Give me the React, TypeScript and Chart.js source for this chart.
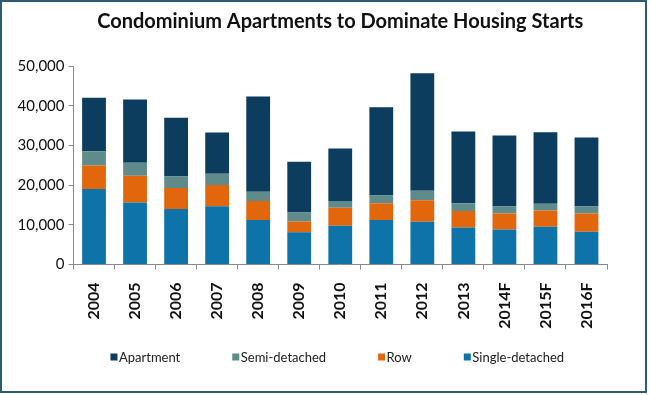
import React, { useEffect, useRef } from "react";
import { Chart, registerables } from "chart.js";

Chart.register(...registerables);

const TITLE = "Condominium Apartments to Dominate Housing Starts";
const YEARS = ["2004", "2005", "2006", "2007", "2008", "2009", "2010", "2011", "2012", "2013", "2014F", "2015F", "2016F"];
const SINGLE = [19000, 15600, 14000, 14700, 11200, 8150, 9750, 11200, 10750, 9300, 8800, 9500, 8250];
const ROW = [5950, 6750, 5300, 5300, 4800, 2700, 4550, 4200, 5450, 4200, 4050, 4100, 4600];
const SEMI = [3600, 3300, 2850, 2850, 2350, 2250, 1700, 2000, 2350, 1950, 1750, 1700, 1750];
const APARTMENT = [13450, 15900, 14800, 10400, 23950, 12800, 13200, 22200, 29600, 18050, 17900, 18000, 17400];
const Y_MIN = 0;
const Y_MAX = 50000;
const Y_STEP = 10000;

const framePlugin = {
  id: "frame",
  afterDraw(chart: any) {
    const ctx = chart.ctx;
    ctx.save();
    ctx.strokeStyle = "#2d5a74";
    ctx.lineWidth = 2;
    ctx.strokeRect(1, 1, chart.width - 5, chart.height - 4);
    ctx.restore();
  },
};

// Simple horizontal legend drawn beneath the axis labels, items in reverse dataset order
const legendPlugin = {
  id: "customLegend",
  afterDraw(chart: any) {
    const ctx = chart.ctx;
    const ds = chart.data.datasets.slice().reverse();
    const box = 7;
    const textGap = 1.5;
    const itemGap = 52;
    ctx.save();
    ctx.font = "13px Lato";
    ctx.textBaseline = "middle";
    ctx.textAlign = "left";
    const widths = ds.map((d: any) => box + textGap + ctx.measureText(d.label).width);
    const total = widths.reduce((a: number, b: number) => a + b, 0) + itemGap * (ds.length - 1);
    const cx = (chart.chartArea.left + chart.chartArea.right) / 2 - 3;
    let x = cx - total / 2;
    const y = chart.height - 38;
    ds.forEach((d: any, i: number) => {
      ctx.fillStyle = d.backgroundColor;
      ctx.fillRect(x, y - box / 2, box, box);
      ctx.fillStyle = "#222";
      ctx.fillText(d.label, x + box + textGap, y + 0.5);
      x += widths[i] + itemGap;
    });
    ctx.restore();
  },
};

export default function App() {
  const ref = useRef<HTMLCanvasElement | null>(null);
  useEffect(() => {
    if (!ref.current) return;
    const axisGray = "#8a8a8a";
    const chart = new Chart(ref.current, {
      type: "bar",
      data: {
        labels: YEARS,
        datasets: [
          { label: "Single-detached", data: SINGLE, backgroundColor: "#0e73a9", borderWidth: 0 },
          { label: "Row", data: ROW, backgroundColor: "#e2670c", borderWidth: 0 },
          { label: "Semi-detached", data: SEMI, backgroundColor: "#5f8b8b", borderWidth: 0 },
          { label: "Apartment", data: APARTMENT, backgroundColor: "#0c3d5f", borderWidth: 0 },
        ],
      },
      plugins: [framePlugin, legendPlugin],
      options: {
        responsive: false,
        animation: false,
        layout: { padding: { left: 0, right: 43, top: 0, bottom: 40 } },
        datasets: { bar: { barPercentage: 0.58, categoryPercentage: 1.0 } },
        plugins: {
          title: {
            display: true,
            text: TITLE,
            fullSize: false,
            color: "#111",
            font: { family: "Lato", size: 20, weight: "bold", lineHeight: 1.2 },
            padding: { top: 10, bottom: 32 },
          },
          legend: { display: false },
          tooltip: { enabled: false },
        },
        scales: {
          x: {
            stacked: true,
            afterFit: (s: any) => { s.height = 90.5; },
            grid: { display: true, drawOnChartArea: false, drawTicks: true, tickLength: 5, color: axisGray, offset: true },
            border: { display: true, color: axisGray, width: 1 },
            ticks: {
              autoSkip: false,
              minRotation: 90,
              maxRotation: 90,
              padding: 13,
              color: "#111",
              font: { family: "Lato", size: 16, weight: "bold" },
            },
          },
          y: {
            stacked: true,
            min: Y_MIN,
            max: Y_MAX,
            afterFit: (s: any) => { s.width = 73.5; },
            grid: { display: true, drawOnChartArea: false, drawTicks: true, tickLength: 5, color: axisGray },
            border: { display: true, color: axisGray, width: 1 },
            ticks: {
              stepSize: Y_STEP,
              padding: 4,
              color: "#111",
              font: { family: "Lato", size: 15 },
              callback: (v: any) => Number(v).toLocaleString("en-US"),
            },
          },
        },
      },
    } as any);
    return () => chart.destroy();
  }, []);
  return (
    <div style={{ position: "fixed", left: 0, top: 0, width: 650, height: 395, background: "#fff" }}>
      <canvas ref={ref} width={650} height={395} style={{ display: "block" }} />
    </div>
  );
}
